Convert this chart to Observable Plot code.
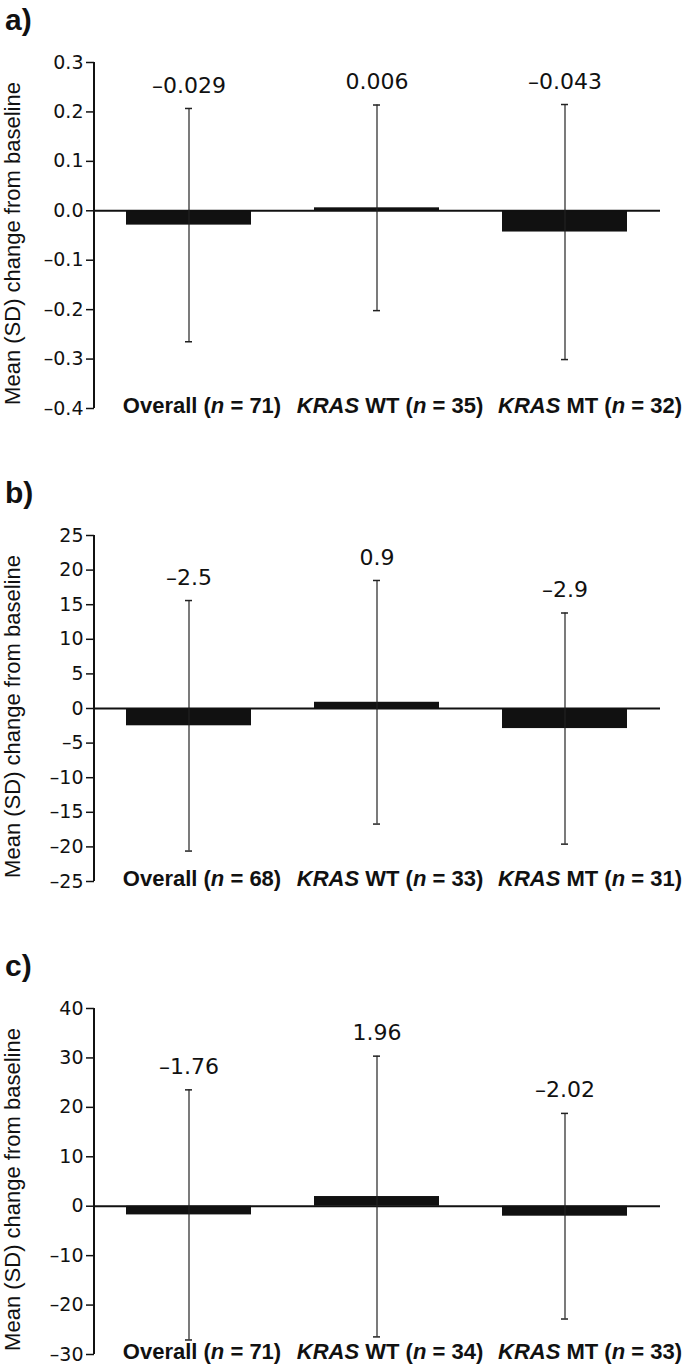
<!DOCTYPE html>
<html><head><meta charset="utf-8">
<script src="https://cdn.jsdelivr.net/npm/d3@7"></script>
<script src="https://cdn.jsdelivr.net/npm/@observablehq/plot@0.6"></script>
<style>
body{margin:0;background:#fff;}
#root{width:685px;}
.panel{position:relative;width:685px;height:473px;}
.letter{position:absolute;left:5px;top:0;height:40px;font-weight:bold;font-size:30px;line-height:40px;color:#111;
 font-family:"Liberation Sans",Arial,sans-serif;}
.panel svg{position:absolute;left:0;top:40px;}
</style></head><body><div id="root"></div>
<script>
const categories = ["Overall", "KRAS WT", "KRAS MT"];
const panelLetters = ["a)", "b)", "c)"];
const yTitle = "Mean (SD) change from baseline";

const nA = [71, 35, 32];
const meanA = [-0.029, 0.006, -0.043];
const sdA = [0.236, 0.208, 0.258];
const ticksA = [0.3, 0.2, 0.1, 0.0, -0.1, -0.2, -0.3, -0.4];

const nB = [68, 33, 31];
const meanB = [-2.5, 0.9, -2.9];
const sdB = [18.1, 17.6, 16.7];
const ticksB = [25, 20, 15, 10, 5, 0, -5, -10, -15, -20, -25];

const nC = [71, 34, 33];
const meanC = [-1.76, 1.96, -2.02];
const sdC = [25.3, 28.4, 20.8];
const ticksC = [40, 30, 20, 10, 0, -10, -20, -30];

const NUMFONT = '"DejaVu Sans",sans-serif';
const TXTFONT = '"Liberation Sans",Arial,sans-serif';
const fmt = (v, d) => (v < 0 ? "\u2013" : "") + Math.abs(v).toFixed(d);

const panels = [
  {letter: panelLetters[0], n: nA, mean: meanA, sd: sdA, ticks: ticksA, tickDec: 1, valDec: 3},
  {letter: panelLetters[1], n: nB, mean: meanB, sd: sdB, ticks: ticksB, tickDec: 0, valDec: 1},
  {letter: panelLetters[2], n: nC, mean: meanC, sd: sdC, ticks: ticksC, tickDec: 0, valDec: 2}
];

const root = document.getElementById("root");
const ML = 94, MR = 25, MT = 22, MB = 65, H = 433;

for (const p of panels) {
  const rows = categories.map((c, i) => ({
    cat: c,
    label: `${c} (n = ${p.n[i]})`,
    mean: p.mean[i],
    lo: p.mean[i] - p.sd[i],
    hi: p.mean[i] + p.sd[i],
    txt: fmt(p.mean[i], p.valDec)
  }));
  const yMin = d3.min(p.ticks), yMax = d3.max(p.ticks);
  const chart = Plot.plot({
    width: 685, height: H,
    marginLeft: ML, marginRight: MR, marginTop: MT, marginBottom: MB,
    style: {fontFamily: TXTFONT, fontSize: "20px", color: "#111", background: "#fff"},
    x: {domain: categories, paddingInner: 1/3, paddingOuter: 1/6, axis: null},
    y: {domain: [yMin, yMax], axis: null},
    marks: [
      Plot.axisY({ticks: p.ticks, tickFormat: d => fmt(d, p.tickDec), tickSize: 8, tickPadding: 3,
        strokeWidth: 1.5, fontSize: 19, fontFamily: NUMFONT, label: null}),
      Plot.text([yTitle], {frameAnchor: "left", textAnchor: "middle", rotate: -90, dx: -82, dy: 8, text: d => d,
        fontSize: 22, fontFamily: TXTFONT, fill: "#111"}),
      Plot.barY(rows, {x: "cat", y: "mean", fill: "#111"}),
      Plot.ruleY([0], {stroke: "#111", strokeWidth: 2}),
      Plot.ruleX(rows, {x: "cat", y1: "lo", y2: "hi", stroke: "#222", strokeWidth: 1.2}),
      Plot.tickY(rows, {x: "cat", y: "hi", insetLeft: 59, insetRight: 59, stroke: "#222", strokeWidth: 1.5}),
      Plot.tickY(rows, {x: "cat", y: "lo", insetLeft: 59, insetRight: 59, stroke: "#222", strokeWidth: 1.5}),
      Plot.text(rows, {x: "cat", y: "hi", text: "txt", dy: -23, fontSize: 22, fontFamily: NUMFONT, fill: "#111"}),
      Plot.text(rows, {filter: (d, i) => i < 2, x: "cat", y: d => yMin, text: "label", dx: 13, dy: -3,
        fontSize: 22, fontWeight: "bold", fontFamily: TXTFONT, fill: "#111"}),
      Plot.text(rows, {filter: (d, i) => i === 2, x: "cat", y: d => yMin, text: "label", dx: 25, dy: -3,
        fontSize: 22, fontWeight: "bold", fontFamily: TXTFONT, fill: "#111"})
    ]
  });
  // italic parts of category labels
  const labels = new Set(rows.map(r => r.label));
  chart.querySelectorAll("text").forEach(t => {
    const s = t.textContent;
    if (!labels.has(s)) return;
    const parts = s.split(/(KRAS|(?<=\()n)/).filter(x => x !== "");
    t.textContent = "";
    for (const part of parts) {
      const ts = document.createElementNS("http://www.w3.org/2000/svg", "tspan");
      ts.textContent = part;
      if (part === "KRAS" || part === "n") ts.setAttribute("font-style", "italic");
      t.appendChild(ts);
    }
  });
  // y-axis domain line drawn with the plot's own y scale
  const ys = chart.scale("y");
  d3.select(chart).append("line")
    .attr("x1", ML).attr("x2", ML)
    .attr("y1", ys.apply(yMax)).attr("y2", ys.apply(yMin))
    .attr("stroke", "#111").attr("stroke-width", 2);

  const div = document.createElement("div");
  div.className = "panel";
  const lab = document.createElement("div");
  lab.className = "letter";
  lab.textContent = p.letter;
  div.appendChild(lab);
  div.appendChild(chart);
  root.appendChild(div);
}
</script>
</body></html>
